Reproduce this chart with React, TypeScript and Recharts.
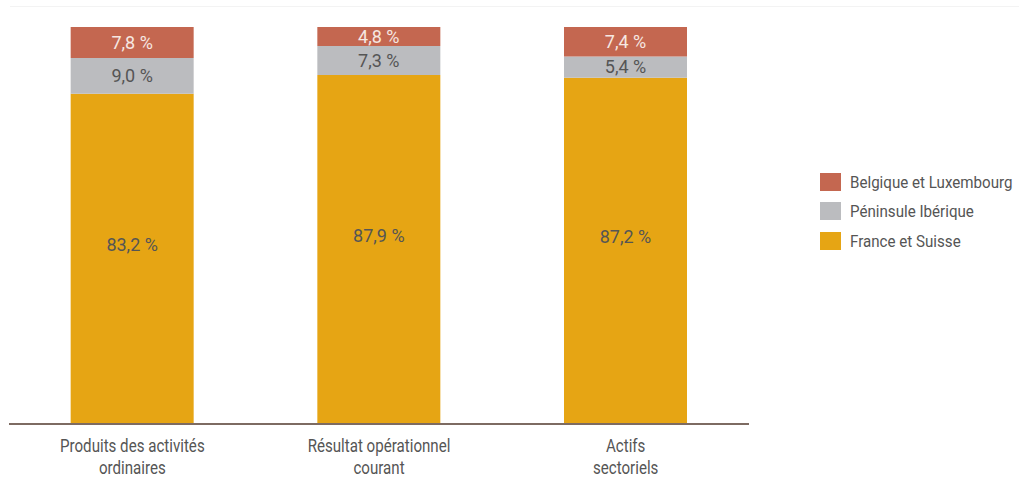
import React from 'react';
import { BarChart, Bar, XAxis, YAxis, LabelList } from 'recharts';

const categories = ['Produits des activités ordinaires', 'Résultat opérationnel courant', 'Actifs sectoriels'];
const categoryLines = [
  ['Produits des activités', 'ordinaires'],
  ['Résultat opérationnel', 'courant'],
  ['Actifs', 'sectoriels'],
];
const franceSuisse = [83.2, 87.9, 87.2];
const peninsule = [9.0, 7.3, 5.4];
const belgique = [7.8, 4.8, 7.4];

const data = categories.map((name, i) => ({
  name,
  france: franceSuisse[i],
  peninsule: peninsule[i],
  belgique: belgique[i],
}));

const FONT = "Roboto, 'Liberation Sans', sans-serif";
const COLORS = { belgique: '#c46750', peninsule: '#bbbcbf', france: '#e6a514' };

const legendItems = [
  { label: 'Belgique et Luxembourg', color: COLORS.belgique },
  { label: 'Péninsule Ibérique', color: COLORS.peninsule },
  { label: 'France et Suisse', color: COLORS.france },
];

const fmt = (v: any) => `${Number(v).toFixed(1).replace('.', ',')} %`;

// condensed look: Roboto squeezed horizontally
const Tick = (props: any) => {
  const { x, y, index } = props;
  const lines = categoryLines[index] || [];
  return (
    <g transform={`translate(${x},${y}) scale(0.84,1)`}>
      <text x={0} y={0} textAnchor="middle" fill="#555" fontSize={18} fontFamily={FONT}>
        {lines.map((l, i) => (
          <tspan key={i} x={0} dy={i === 0 ? 20 : 22}>{l}</tspan>
        ))}
      </text>
    </g>
  );
};

// big segment labels sit a bit above the middle in the original
const RaisedLabel = (props: any) => {
  const { x, y, width, height, value } = props;
  return (
    <text
      x={x + width / 2}
      y={y + height / 2 - 14}
      textAnchor="middle"
      dominantBaseline="central"
      fill="#555"
      fontSize={18}
      fontFamily={FONT}
    >
      {fmt(value)}
    </text>
  );
};

const LegendBox = () => (
  <div style={{ position: 'absolute', left: 820, top: 167, fontFamily: FONT, fontSize: 17, color: '#555' }}>
    {legendItems.map((it) => (
      <div key={it.label} style={{ display: 'flex', alignItems: 'center', height: 29.5, whiteSpace: 'nowrap' }}>
        <span style={{ width: 21, height: 18, background: it.color, display: 'inline-block', marginRight: 9 }} />
        <span style={{ display: 'inline-block', transform: 'scaleX(0.89)', transformOrigin: 'left center' }}>{it.label}</span>
      </div>
    ))}
  </div>
);

export default function App() {
  return (
    <div style={{ position: 'absolute', left: 0, top: 0, width: 1019, height: 488, background: '#fff' }}>
      <div style={{ position: 'absolute', left: 10, right: 0, top: 6, height: 1, background: '#f3f3f3' }} />
      <BarChart
        width={1019}
        height={488}
        data={data}
        margin={{ top: 27, right: 270, left: 9, bottom: 0 }}
        barCategoryGap="25%"
      >
        <XAxis
          dataKey="name"
          height={64}
          tick={<Tick />}
          tickLine={false}
          axisLine={{ stroke: '#7d6b62', strokeWidth: 2 }}
          interval={0}
        />
        <YAxis hide domain={[0, 100]} />
        <Bar dataKey="france" stackId="a" fill={COLORS.france} isAnimationActive={false}>
          <LabelList dataKey="france" content={<RaisedLabel />} />
        </Bar>
        <Bar dataKey="peninsule" stackId="a" fill={COLORS.peninsule} isAnimationActive={false}>
          <LabelList dataKey="peninsule" position="center" formatter={fmt} fill="#555" fontSize={18} fontFamily={FONT} />
        </Bar>
        <Bar dataKey="belgique" stackId="a" fill={COLORS.belgique} isAnimationActive={false}>
          <LabelList dataKey="belgique" position="center" formatter={fmt} fill="#f6e8e2" fontSize={18} fontFamily={FONT} />
        </Bar>
      </BarChart>
      <LegendBox />
    </div>
  );
}
